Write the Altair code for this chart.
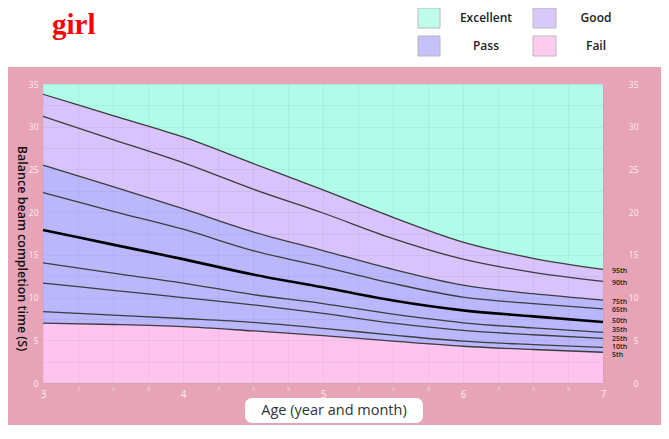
import altair as alt
import pandas as pd

# ---------------- data ----------------
ages = [3, 3.5, 4, 4.5, 5, 5.5, 6, 6.5, 7]
pct_names = ["95th", "90th", "75th", "65th", "50th", "35th", "25th", "10th", "5th"]
p95 = [33.8, 31.3, 28.8, 25.7, 22.6, 19.4, 16.5, 14.6, 13.3]
p90 = [31.2, 28.5, 25.8, 22.7, 19.9, 16.9, 14.5, 12.95, 11.9]
p75 = [25.5, 23.0, 20.4, 17.7, 15.5, 13.3, 11.45, 10.45, 9.7]
p65 = [22.3, 20.1, 18.0, 15.5, 13.6, 11.65, 10.05, 9.3, 8.67]
p50 = [17.9, 16.2, 14.5, 12.7, 11.2, 9.65, 8.5, 7.8, 7.14]
p35 = [14.05, 12.85, 11.7, 10.35, 9.3, 8.05, 7.05, 6.45, 5.93]
p25 = [11.7, 10.85, 10.0, 9.15, 8.15, 7.0, 6.15, 5.65, 5.23]
p10 = [8.35, 7.95, 7.55, 7.1, 6.4, 5.6, 4.9, 4.5, 4.18]
p5 = [7.0, 6.85, 6.6, 6.1, 5.55, 4.9, 4.3, 3.92, 3.6]
series = [p95, p90, p75, p65, p50, p35, p25, p10, p5]

grades = ["Excellent", "Good", "Pass", "Fail"]
grade_colors = ["#B0FCE8", "#D8C3FC", "#BAB7FC", "#FFC3EF"]
swatch_colors = ["#BEFDEB", "#D9C8FA", "#C5C1FA", "#FFCCEE"]

y_ticks = [0, 2.5, 5, 7.5, 10, 12.5, 15, 17.5, 20, 22.5, 25, 27.5, 30, 32.5, 35]
x_ticks = [3, 3.25, 3.5, 3.75, 4, 4.25, 4.5, 4.75, 5, 5.25, 5.5, 5.75, 6,
           6.25, 6.5, 6.75, 7]
Y_MAX = 35

# ---------------- tables ----------------
band_bounds = {
    "Excellent": (p95, [Y_MAX] * len(ages)),
    "Good": (p75, p95),
    "Pass": (p5, p75),
    "Fail": ([0] * len(ages), p5),
}
band_rows = []
for g in grades:
    lo, hi = band_bounds[g]
    for a, l, h in zip(ages, lo, hi):
        band_rows.append({"age": a, "lo": l, "hi": h, "grade": g})
bands = pd.DataFrame(band_rows)

line_rows = []
for name, vals in zip(pct_names, series):
    for a, v in zip(ages, vals):
        line_rows.append({"age": a, "value": v, "pct": name})
lines = pd.DataFrame(line_rows)

end_labels = pd.DataFrame({"pct": pct_names, "value": [s[-1] for s in series],
                           "age": [ages[-1]] * len(pct_names)})

# ---------------- styling ----------------
BG = "#E7A4B6"
GRID = "#6f5f8f"
LABEL = "#FBEEF2"
FONT = "Open Sans"

xscale = alt.Scale(domain=[3, 7], nice=False, zero=False)
yscale = alt.Scale(domain=[0, Y_MAX], nice=False)

is_year = "datum.value % 1 === 0"
x_axis = alt.Axis(
    values=x_ticks,
    labelExpr="datum.value % 1 === 0 ? format(datum.value, 'd') : format((datum.value % 1) * 12, 'd')",
    labelFontSize={"condition": {"test": is_year, "value": 10}, "value": 5.5},
    labelColor={"condition": {"test": is_year, "value": LABEL}, "value": "#F7DDE5"},
    labelPadding={"condition": {"test": is_year, "value": 6}, "value": 3.5},
    labelFont=FONT, labelFlush=False, labelBaseline="top",
    grid=True, gridColor=GRID, gridOpacity=0.09, gridWidth=1,
    ticks=False, domain=False, title=None, zindex=1,
)
X = alt.X("age:Q", scale=xscale, axis=x_axis)

left_axis = alt.Axis(
    orient="left", values=y_ticks,
    labelExpr="datum.value % 5 === 0 ? format(datum.value, 'd') : ''",
    labelColor=LABEL, labelFontSize=8.5, labelFont=FONT, labelPadding=5,
    labelFlush=False, grid=True, gridColor=GRID, gridOpacity=0.09, gridWidth=1,
    ticks=False, domain=False, zindex=1,
    title="Balance beam completion time (S)", titleAngle=90, titleX=-22, titleY=164,
    titleFont=FONT, titleFontSize=12.5, titleFontWeight=600, titleColor="#111111",
    titleAlign="center", titleBaseline="middle",
)
right_axis = alt.Axis(
    orient="right", values=y_ticks,
    labelExpr="datum.value % 5 === 0 ? format(datum.value, 'd') : ''",
    labelColor=LABEL, labelFontSize=8.5, labelFont=FONT, labelPadding=35,
    labelAlign="right", labelFlush=False, grid=False, ticks=False, domain=False,
    title=None, zindex=1,
)

dummy = pd.DataFrame({"k": [0]})


def box(x, x2, y, y2, fill, **kw):
    return alt.Chart(dummy).mark_rect(fill=fill, clip=False, **kw).encode(
        x=alt.value(x), x2=alt.value(x2), y=alt.value(y), y2=alt.value(y2))


def label(txt, x, y, **kw):
    return alt.Chart(dummy).mark_text(text=txt, clip=False, **kw).encode(
        x=alt.value(x), y=alt.value(y))


panel = box(-35, 618, -17, 341, BG)

areas = alt.Chart(bands).mark_area(interpolate="monotone").encode(
    x=X,
    y=alt.Y("lo:Q", scale=yscale, axis=left_axis),
    y2="hi:Q",
    color=alt.Color("grade:N", scale=alt.Scale(domain=grades, range=grade_colors), legend=None),
    detail="grade:N",
)

curves = alt.Chart(lines).mark_line(interpolate="monotone").encode(
    x=X,
    y=alt.Y("value:Q", scale=yscale, axis=right_axis),
    detail="pct:N",
    color=alt.condition(alt.datum.pct == "50th", alt.value("#000000"), alt.value("#3c3c3c")),
    strokeWidth=alt.condition(alt.datum.pct == "50th", alt.value(2.6), alt.value(1.3)),
)

# vertical nudges (px) for the end-of-line percentile labels
label_dy = {"95th": 1.5, "90th": 1.5, "75th": 1.5, "65th": 1.5, "50th": -1,
            "35th": -2.5, "25th": 0.5, "10th": -0.5, "5th": 2.5}
end_layers = []
for name in pct_names:
    end_layers.append(
        alt.Chart(end_labels).transform_filter(alt.datum.pct == name).mark_text(
            align="left", baseline="middle", dx=9, dy=label_dy[name], fontSize=7,
            font=FONT, fontWeight=600, color="#1a1a1a", clip=False,
        ).encode(x=X, y=alt.Y("value:Q", scale=yscale, axis=None), text="pct:N")
    )

# legend (top right)
sw_cols = [(375, 397), (490, 513)]
sw_rows = [(-76, -56), (-48, -28)]
txt_x = [443, 553]
legend_layers = []
for i, g in enumerate(grades):
    c, r = i % 2, i // 2
    legend_layers.append(box(sw_cols[c][0], sw_cols[c][1], sw_rows[r][0], sw_rows[r][1],
                             swatch_colors[i], stroke="#b9b9b9", strokeWidth=1))
    legend_layers.append(label(g, txt_x[c], (sw_rows[r][0] + sw_rows[r][1]) / 2,
                               align="center", baseline="middle", fontSize=12,
                               font=FONT, fontWeight=600, color="#222222"))

title = label("girl", 9, -50, align="left", baseline="alphabetic", fontSize=29,
              font="Liberation Serif", fontWeight="bold", color="#FF0000")

xbox = box(202, 380, 314, 339, "#FFFFFF", cornerRadius=7)
xtitle = label("Age (year and month)", 291, 326.5, align="center", baseline="middle",
               fontSize=14.5, font=FONT, color="#333333")

chart = alt.layer(
    panel, areas, curves, *end_layers, *legend_layers, title, xbox, xtitle
).resolve_scale(y="independent").properties(
    width=560, height=299,
    autosize=alt.AutoSizeParams(type="none"),
    padding={"left": 35, "top": 76, "right": 58, "bottom": 42},
    background="#FFFFFF",
).configure_view(strokeWidth=0)

chart.save("out.html", embed_options={"renderer": "svg", "actions": False})
